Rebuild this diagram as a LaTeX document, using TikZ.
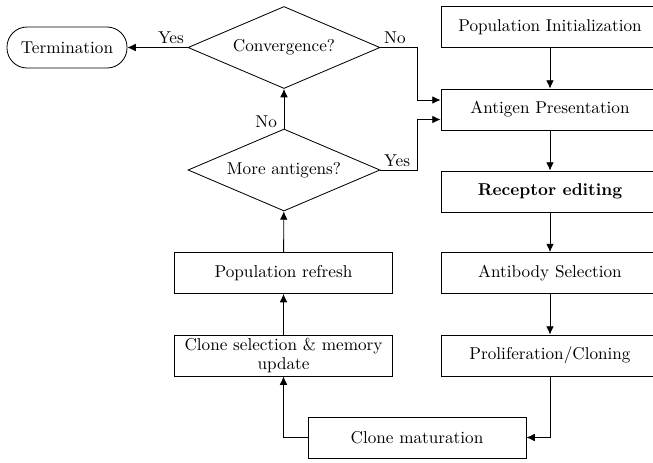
\documentclass[tikz,border=0pt]{standalone}
\usetikzlibrary{shapes.geometric,arrows.meta,calc}
\begin{document}
\begin{tikzpicture}[x=0.6pt,y=-0.6pt,line width=0.5pt,
  every node/.style={font=\fontsize{10.3pt}{12.2pt}\selectfont},
  box/.style={draw, rectangle, minimum width=130.8pt, minimum height=24.6pt, inner xsep=2pt, inner ysep=1pt, align=center},
  dec/.style={draw, diamond, aspect=2.34, minimum width=115.2pt, minimum height=49.2pt, inner sep=0pt},
  term/.style={draw, rectangle, rounded corners=12pt, minimum width=72pt, minimum height=24.6pt},
  arr/.style={-{Latex[length=5pt,width=4.6pt]}},
  lbl/.style={inner xsep=2pt, inner ysep=2pt}]
\useasboundingbox (0,0) rectangle (653,462);
\node[box] (init) at (550,27) {Population Initialization};
\node[box] (ant) at (550,109.5) {Antigen Presentation};
\node[box] (rec) at (550,191.5) {\textbf{Receptor editing}};
\node[box] (abs) at (550,273) {Antibody Selection};
\node[box] (pro) at (550,355.5) {Proliferation/Cloning};
\node[box] (mat) at (417,437.5) {Clone maturation};
\node[box] (csel) at (283.5,355.5) {Clone selection \& memory\\[-1pt] update};
\node[box] (ref) at (283.5,273) {Population refresh};
\node[dec] (more) at (284,170) {More antigens?};
\node[dec] (conv) at (284,47.5) {Convergence?};
\node[term] (term) at (67,47.5) {Termination};

\draw[arr] (init) -- (ant);
\draw[arr] (ant) -- (rec);
\draw[arr] (rec) -- (abs);
\draw[arr] (abs) -- (pro);
\draw[arr] (pro.south) |- (mat.east);
\draw[arr] (mat.west) -| (csel.south);
\draw[arr] (csel) -- (ref);
\draw[arr] (ref) -- (more);
\draw[arr] (more.north) -- node[pos=0, anchor=south east, inner xsep=4pt, inner ysep=0pt] {No} (conv.south);
\draw[arr] (conv.west) -- node[pos=0, anchor=south east, lbl] {Yes} (term.east);
\draw[arr] (conv.east) -- node[pos=0, anchor=south west, lbl] {No} ++(37,0) |- ($(ant.west)+(0,-9.5)$);
\draw[arr] (more.east) -- node[pos=0, anchor=south west, lbl] {Yes} ++(37,0) |- ($(ant.west)+(0,10)$);
\end{tikzpicture}
\end{document}
